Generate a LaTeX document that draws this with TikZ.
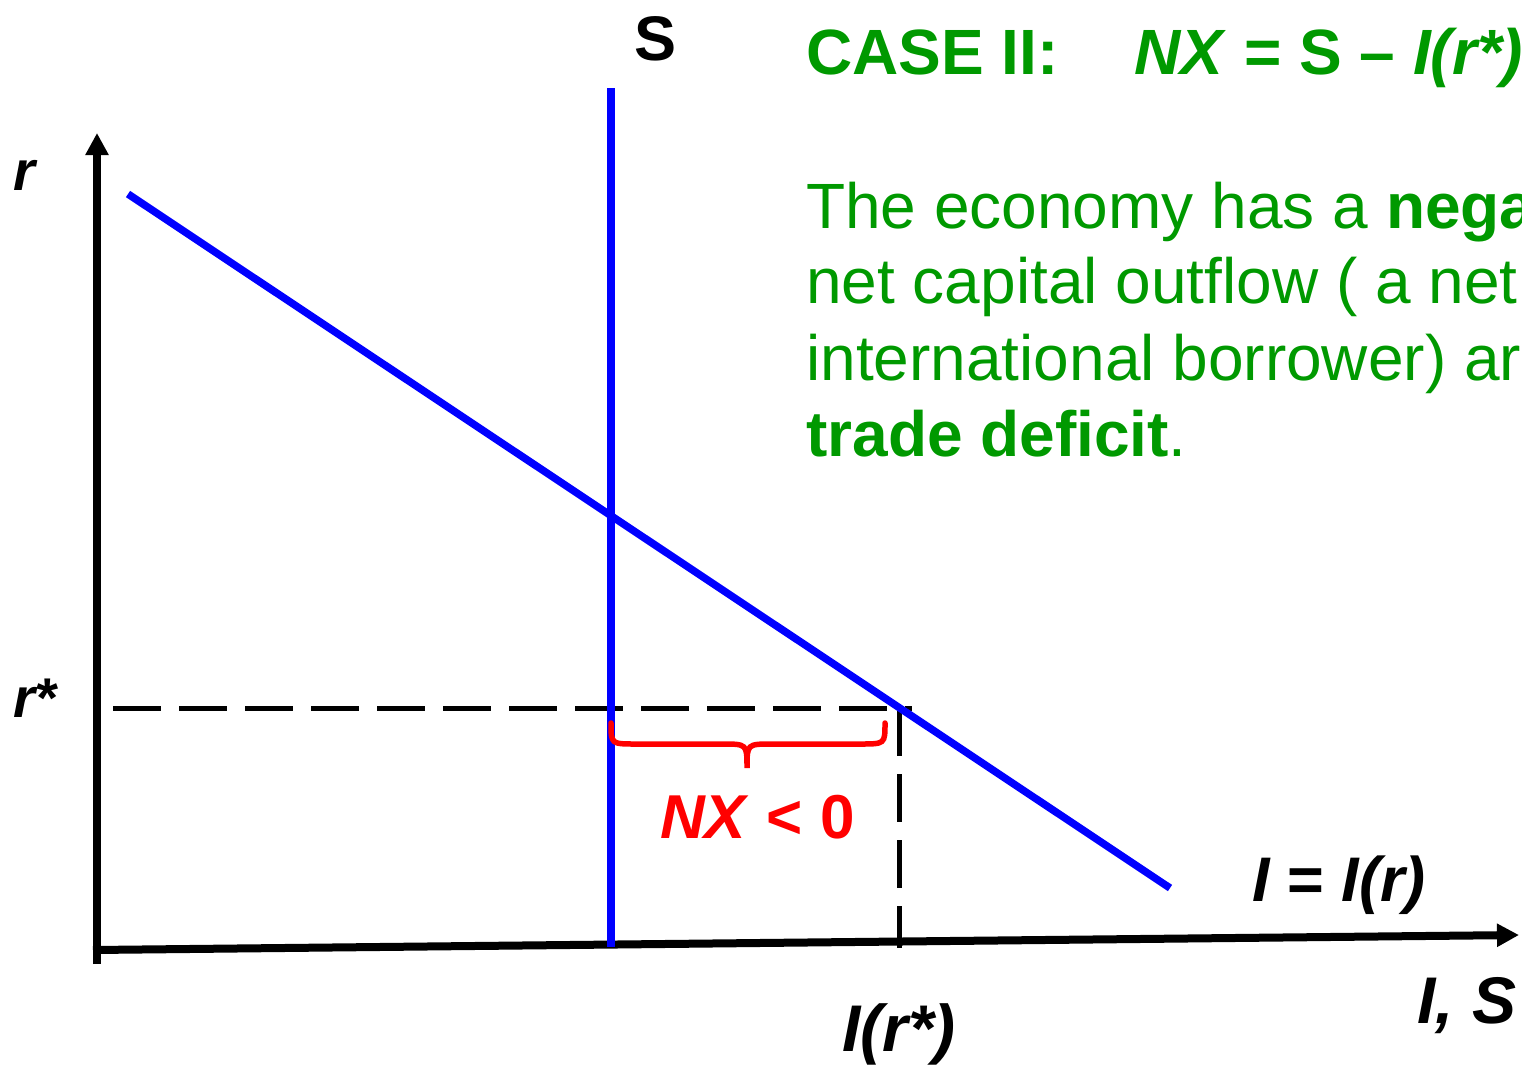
\documentclass[tikz,border=0pt]{standalone}
\usepackage{fontspec}
\setmainfont{Liberation Sans}
\usetikzlibrary{arrows.meta}
\definecolor{dgreen}{RGB}{0,153,0}
\definecolor{cblue}{RGB}{0,0,255}
\definecolor{cred}{RGB}{255,0,0}
\begin{document}
\begin{tikzpicture}[x=1pt,y=-1pt,
  axis/.style={line width=8pt,-{Triangle[length=22pt,width=22pt]}},
  curve/.style={cblue,line width=7.5pt},
  guide/.style={line width=5pt,dash pattern=on 48pt off 18pt},
  lab/.style={inner sep=0pt,anchor=base west,font=\fontsize{66}{78}\selectfont\bfseries\itshape},
  body/.style={inner sep=0pt,anchor=base west,text=dgreen,font=\fontsize{64}{76}\selectfont},
  title/.style={inner sep=0pt,anchor=base west,text=dgreen,font=\fontsize{64}{76}\selectfont\bfseries}]
\useasboundingbox (0,0) rectangle (1522,1066);
\begin{scope}
\clip (0,0) rectangle (1522,1066);
% axes
\coordinate (o) at (97,964);
\coordinate (ytip) at (97,133);
\coordinate (xl) at (93,950);
\coordinate (xtip) at (1519,935);
\draw[axis] (o) -- (ytip);
\draw[axis] (xl) -- (xtip);
% dashed guides
\coordinate (eq) at (899,708);
\draw[guide] (113,708) -- (912,708);
\draw[guide] (899,708) -- (899,948);
% curves
\coordinate (s1) at (611,88);
\coordinate (s2) at (611,947);
\coordinate (i1) at (128,194);
\coordinate (i2) at (1170,888);
\draw[curve] (s1) -- (s2);
\draw[curve] (i1) -- (i2);
% brace
\draw[cred,line width=5.5pt,line cap=round]
  (611,723) .. controls (611,744) .. (636,744) -- (722,744)
  .. controls (747,744) .. (747,768)
  .. controls (747,744) .. (772,744) -- (860,744)
  .. controls (885,744) .. (885,723);
% labels
\node[lab,font=\fontsize{56}{66}\selectfont\bfseries\itshape] (r) at (13,190) {r};
\node[lab,font=\fontsize{56}{66}\selectfont\bfseries\itshape] (rstar) at (13,717) {r*};
\node[lab,font=\fontsize{63}{74}\selectfont\bfseries] (Slab) at (634,60) {S};
\node[lab] (Ir) at (842,1051) {I(r*)};
\node[lab] (IS) at (1417,1023) {I, S};
\node[lab,font=\fontsize{63}{74}\selectfont\bfseries\itshape] (Ieq) at (1252,901) {I {\upshape =} I(r)};
\node[lab,text=cred,font=\fontsize{62}{74}\selectfont\bfseries] (nx) at (660,838) {\textit{NX} < 0};
% title and text
\node[title] (case) at (806,74) {CASE II:};
\node[title] (eqn) at (1134,74) {\textit{NX} = S – \textit{I(r*)}};
\node[body] (l1) at (806,228) {The economy has a \textbf{nega}};
\node[body] (l2) at (806,303) {net capital outflow ( a net};
\node[body] (l3) at (806,380) {international borrower) ar};
\node[body] (l4) at (806,456) {\textbf{trade deficit}.};
\end{scope}
\end{tikzpicture}
\end{document}
